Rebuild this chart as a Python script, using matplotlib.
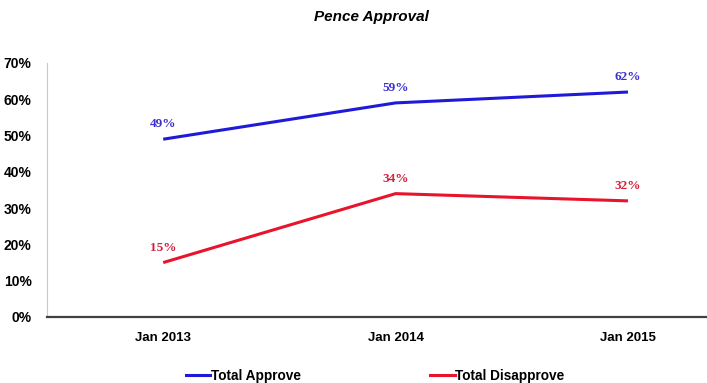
import matplotlib.pyplot as plt
from matplotlib.lines import Line2D

categories = ["Jan 2013", "Jan 2014", "Jan 2015"]
approve = [49, 59, 62]
disapprove = [15, 34, 32]
y_ticks = [0, 10, 20, 30, 40, 50, 60, 70]

blue = "#1f1ad8"
red = "#e8142c"
blue_lbl = "#3b2fd0"
red_lbl = "#d4203a"

W, H = 707, 383
fig = plt.figure(figsize=(W / 100, H / 100), dpi=100)
ax = fig.add_axes([47 / W, 1 - 317 / H, 1 - 47 / W, (317 - 63) / H])

x = list(range(len(categories)))
ax.plot(x, approve, color=blue, lw=2.2, solid_capstyle="butt")
ax.plot(x, disapprove, color=red, lw=2.2, solid_capstyle="butt")

for xi, v in zip(x, approve):
    ax.text(xi, v + 4.1, f"{v}%", color=blue_lbl, ha="center", va="center",
            fontsize=9.5, fontweight="bold", family="Liberation Serif")
for xi, v in zip(x, disapprove):
    ax.text(xi, v + 4.1, f"{v}%", color=red_lbl, ha="center", va="center",
            fontsize=9.5, fontweight="bold", family="Liberation Serif")

ax.set_xlim(-0.5, 2.34)
ax.set_ylim(0, 70)
ax.set_yticks(y_ticks)
ax.set_yticklabels([f"{t}%" for t in y_ticks], family="Liberation Sans",
                   fontweight="bold", fontsize=10)
ax.set_xticks(x)
ax.set_xticklabels(categories, family="Liberation Sans", fontweight="bold",
                   fontsize=9.5)
ax.tick_params(axis="both", length=0)
ax.tick_params(axis="x", pad=11)
ax.tick_params(axis="y", pad=11)

for s in ["top", "right"]:
    ax.spines[s].set_visible(False)
ax.spines["left"].set_color("#c8c8c8")
ax.spines["left"].set_linewidth(0.8)
ax.spines["bottom"].set_color("#404040")
ax.spines["bottom"].set_linewidth(1.6)

fig.text(371 / W, 1 - 17 / H, "Pence Approval", ha="center", va="center",
         family="Liberation Sans", fontweight="bold", style="italic", fontsize=11)

handles = [Line2D([], [], color=blue, lw=2.2), Line2D([], [], color=red, lw=2.2)]
fig.legend(handles, ["Total Approve", "Total Disapprove"], loc="center",
           bbox_to_anchor=(375 / W, 1 - 376 / H), ncol=2, frameon=False,
           prop={"family": "Liberation Sans", "weight": "bold", "size": 9.8},
           handlelength=1.8, handletextpad=0.05, columnspacing=9.5)

fig.savefig("out.png", dpi=100)
